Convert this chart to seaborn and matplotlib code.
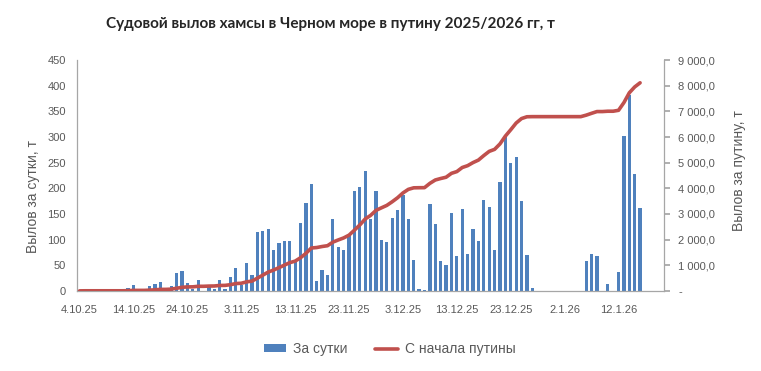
import seaborn as sns
import matplotlib.pyplot as plt
import numpy as np
import pandas as pd
from matplotlib.lines import Line2D
from matplotlib.patches import Patch
from matplotlib.ticker import FuncFormatter

# Судовой вылов хамсы, суточный и нарастающим итогом

start_date = "2025-10-04"
daily_catch = [
    0, 3, 0, 0, 0, 0, 0, 0, 0, 5,
    11, 0, 0, 9, 13, 17, 0, 9, 34, 38,
    15, 3, 21, 0, 9, 3, 21, 3, 27, 44,
    12, 54, 31, 115, 116, 120, 79, 94, 97, 97,
    60, 132, 171, 208, 19, 40, 31, 140, 85, 79,
    109, 195, 202, 233, 140, 195, 99, 95, 142, 157,
    187, 140, 60, 4, 2, 169, 130, 58, 50, 152,
    68, 159, 72, 120, 97, 177, 163, 79, 212, 304,
    249, 261, 175, 70, 5, 0, 0, 0, 0, 0,
    0, 0, 0, 0, 58, 72, 68, 0, 13, 0,
    36, 302, 382, 228, 161,
]
title = "Судовой вылов хамсы в Черном море в путину 2025/2026 гг, т"
bar_label = "За сутки"
line_label = "С начала путины"
left_ylabel = "Вылов за сутки, т"
right_ylabel = "Вылов за путину, т"

dates = pd.date_range(start_date, periods=len(daily_catch))
date_labels = [f"{d.day}.{d.month}.{d:%y}" for d in dates]
df = pd.DataFrame({"date": date_labels, "daily": daily_catch})
df["pos"] = np.arange(len(df))
df["total"] = df["daily"].cumsum()

sns.set_theme(style="white")
plt.rcParams["font.family"] = ["Liberation Sans", "DejaVu Sans"]

bar_color = "#4F81BD"
line_color = "#C0504D"
grey = "#595959"
axis_grey = "#A6A6A6"

fig = plt.figure(figsize=(7.61, 3.71), dpi=100)
ax = fig.add_axes([0.101, 0.216, 0.772, 0.622])
sns.barplot(data=df, x="date", y="daily", order=date_labels,
            color=bar_color, saturation=1, width=0.6, linewidth=0, ax=ax)

ax2 = ax.twinx()
sns.lineplot(data=df, x="pos", y="total", color=line_color,
             linewidth=2.6, ax=ax2)

ax.set_xlim(-0.5, 108.5)
ax.set_ylim(0, 450)
ax.set_yticks(np.arange(0, 451, 50))
ax2.set_ylim(0, 9000)
ax2.set_yticks(np.arange(0, 9001, 1000))
ax2.yaxis.set_major_formatter(FuncFormatter(
    lambda v, p: "-" if v == 0 else f"{v:,.1f}".replace(",", " ").replace(".", ",")))

tick_pos = df["pos"][::10].tolist()
ax.set_xticks(tick_pos)
ax.set_xticklabels([date_labels[i] for i in tick_pos])

ax.set_xlabel("")
ax.set_ylabel(left_ylabel, fontsize=10, color=grey)
ax.yaxis.set_label_coords(-0.063, 0.41)
ax2.set_xlabel("")
ax2.set_ylabel(right_ylabel, fontsize=10, color=grey)
ax2.yaxis.set_label_coords(1.115, 0.52)

for a in (ax, ax2):
    for s in a.spines.values():
        s.set_visible(False)
ax.spines["left"].set_visible(True)
ax.spines["bottom"].set_visible(True)
ax2.spines["right"].set_visible(True)
for s in (ax.spines["left"], ax.spines["bottom"], ax2.spines["right"]):
    s.set_color(axis_grey)
    s.set_linewidth(0.9)

ax.tick_params(axis="both", labelsize=8, colors=grey, length=0, pad=3)
ax.tick_params(axis="y", pad=8)
ax.tick_params(axis="x", pad=10)
ax2.tick_params(axis="y", labelsize=8, colors=grey, length=4,
                color=axis_grey, pad=6)

fig.text(0.434, 0.935, title, ha="center", va="center", fontsize=11,
         fontweight="bold", family=["Lato", "DejaVu Sans"], color="#262626")

handles = [Patch(facecolor=bar_color, edgecolor="none"),
           Line2D([0], [0], color=line_color, linewidth=2.6)]
fig.legend(handles, [bar_label, line_label], loc="center",
           bbox_to_anchor=(0.512, 0.059), ncol=2, frameon=False,
           fontsize=10, labelcolor=grey, handlelength=1.6, handleheight=0.5,
           columnspacing=2.0, handletextpad=0.5)

fig.savefig("out.png", dpi=100)
